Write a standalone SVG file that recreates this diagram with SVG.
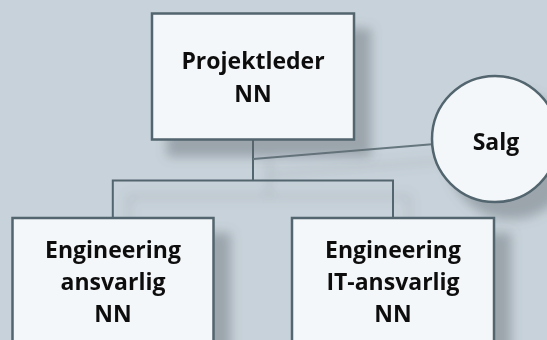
<svg xmlns="http://www.w3.org/2000/svg" width="547" height="340" viewBox="0 0 547 340">
  <style>
    .bg { fill: #c8d2da; }
    .box { fill: #f4f7f9; stroke: #52656e; stroke-width: 2.5; }
    .conn { fill: none; stroke: #52656e; stroke-width: 2; }
    .conn-thin { fill: none; stroke: #66777f; stroke-width: 2; }
    .lbl { font-family: "Open Sans", "Liberation Sans", sans-serif; font-weight: 700; font-size: 23px; fill: #111; text-anchor: middle; }
  </style>
  <defs>
    <filter id="shadow" x="-20%" y="-20%" width="150%" height="150%">
      <feGaussianBlur in="SourceAlpha" stdDeviation="5.5"/>
      <feOffset dx="16" dy="16" result="b"/>
      <feFlood flood-color="#5d666c" flood-opacity="0.42"/>
      <feComposite in2="b" operator="in" result="s"/>
      <feMerge>
        <feMergeNode in="s"/>
        <feMergeNode in="SourceGraphic"/>
      </feMerge>
    </filter>
  </defs>
  <rect class="bg" x="0" y="0" width="547" height="340"/>

  <g id="connectors" filter="url(#shadow)">
    <path class="conn" d="M253,139.5 V180.5 M112.8,218 V180.5 H393 V218"/>
    <path class="conn-thin" d="M253,159 L432,144.3"/>
  </g>

  <g id="node-projektleder" filter="url(#shadow)">
    <rect class="box" x="152" y="13.5" width="202" height="126"/>
    <text class="lbl" x="253" y="68.5">Projektleder</text>
    <text class="lbl" x="253" y="101.5">NN</text>
  </g>

  <g id="node-salg" filter="url(#shadow)">
    <circle class="box" cx="495" cy="139" r="63"/>
    <text class="lbl" x="496" y="150">Salg</text>
  </g>

  <g id="node-engineering-ansvarlig" filter="url(#shadow)">
    <rect class="box" x="12.5" y="218" width="201" height="126"/>
    <text class="lbl" x="113" y="258.3">Engineering</text>
    <text class="lbl" x="113" y="290">ansvarlig</text>
    <text class="lbl" x="113" y="321.7">NN</text>
  </g>

  <g id="node-engineering-it" filter="url(#shadow)">
    <rect class="box" x="292" y="218" width="202" height="126"/>
    <text class="lbl" x="393" y="258.3">Engineering</text>
    <text class="lbl" x="393" y="290">IT-ansvarlig</text>
    <text class="lbl" x="393" y="321.7">NN</text>
  </g>
</svg>
